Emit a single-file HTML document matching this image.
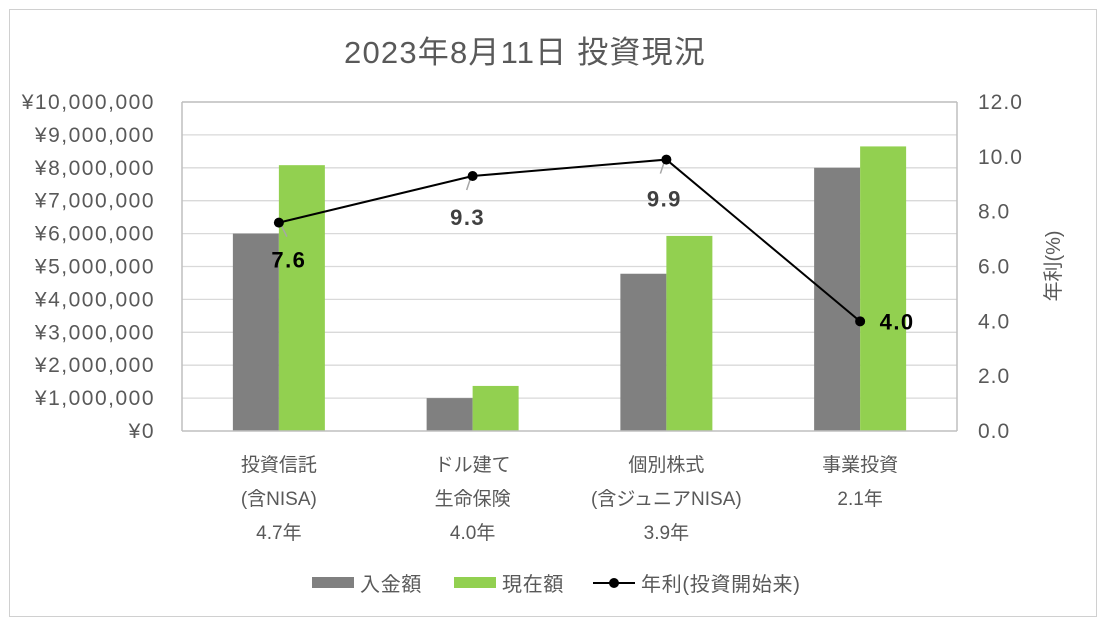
<!DOCTYPE html>
<html><head><meta charset="utf-8"><style>
body{margin:0;background:#fff;}
svg text{font-family:"Liberation Sans","Noto Sans CJK JP",sans-serif;}
</style></head><body>
<svg width="1106" height="627" xmlns="http://www.w3.org/2000/svg" id="chart">
<rect x="9.5" y="9.5" width="1087" height="607" fill="#fff" stroke="#d0d0d0"/>
<text x="525" y="63" text-anchor="middle" font-size="31" letter-spacing="1.2" fill="#595959">2023年8月11日 投資現況</text>
<g id="grid"></g><g id="bars"></g><g id="line"></g><g id="axes"></g>
<text transform="translate(1060,266) rotate(-90)" text-anchor="middle" font-size="20" fill="#595959">年利(%)</text>
<g>
<rect x="312" y="577" width="42" height="11" fill="#808080"/>
<text x="360" y="591" font-size="20" letter-spacing="0.7" fill="#595959">入金額</text>
<rect x="454" y="577" width="42" height="11" fill="#92d050"/>
<text x="502" y="591" font-size="20" letter-spacing="0.7" fill="#595959">現在額</text>
<line x1="593" y1="583" x2="635" y2="583" stroke="#000" stroke-width="2"/>
<circle cx="614" cy="583" r="5" fill="#000"/>
<text x="641" y="591" font-size="20" letter-spacing="0.7" fill="#595959">年利(投資開始来)</text>
</g>
</svg>
<script>
const categories=[["投資信託","(含NISA)","4.7年"],["ドル建て","生命保険","4.0年"],["個別株式","(含ジュニアNISA)","3.9年"],["事業投資","2.1年"]];
const deposit=[6000000,1000000,4780000,8000000];
const current=[8080000,1370000,5930000,8650000];
const rate=[7.6,9.3,9.9,4.0];
const leftTicks=["¥0","¥1,000,000","¥2,000,000","¥3,000,000","¥4,000,000","¥5,000,000","¥6,000,000","¥7,000,000","¥8,000,000","¥9,000,000","¥10,000,000"];
const rightTicks=["0.0","2.0","4.0","6.0","8.0","10.0","12.0"];
const NS="http://www.w3.org/2000/svg";
const X0=182,X1=957,Y0=431,Y1=102;
const yL=v=>Y0-(v/10000000)*(Y0-Y1);
const yR=v=>Y0-(v/12)*(Y0-Y1);
const band=(X1-X0)/categories.length;
const cx=i=>X0+band*(i+0.5);
function mk(p,tag,a){const e=document.createElementNS(NS,tag);for(const k in a)e.setAttribute(k,a[k]);document.getElementById(p).appendChild(e);return e;}
leftTicks.forEach((t,i)=>{const y=yL(i*1000000);
 if(i>0){const g=mk('grid','line',{x1:X0,x2:X1,y1:y,y2:y,stroke:'#d9d9d9','stroke-width':1.3});
 
 }
 const tx=mk('axes','text',{x:155,y:y+7,'text-anchor':'end','font-size':21,'letter-spacing':1.5,fill:'#595959'});tx.textContent=t;
 
 
});
rightTicks.forEach((t,i)=>{const tx=mk('axes','text',{x:978,y:yR(i*2)+7,'text-anchor':'start','font-size':21,'letter-spacing':1,fill:'#595959'});tx.textContent=t;
 
 });
const ax=mk('axes','line',{x1:X0,x2:X0,y1:Y1,y2:Y0,stroke:'#bfbfbf','stroke-width':1.5});


const ax2=mk('axes','line',{x1:X1,x2:X1,y1:Y1,y2:Y0,stroke:'#bfbfbf','stroke-width':1.5});


const ax4=mk('axes','line',{x1:X0,x2:X1,y1:Y1,y2:Y1,stroke:'#bfbfbf','stroke-width':1.5});


const ax3=mk('axes','line',{x1:X0,x2:X1,y1:Y0,y2:Y0,stroke:'#bfbfbf','stroke-width':1.5});


const bw=46;
categories.forEach((c,i)=>{
 const b1=mk('bars','rect',{x:cx(i)-bw,y:yL(deposit[i]),width:bw,height:Y0-yL(deposit[i]),fill:'#808080'});
 
 
 const b2=mk('bars','rect',{x:cx(i),y:yL(current[i]),width:bw,height:Y0-yL(current[i]),fill:'#92d050'});
 
 
 c.forEach((l,j)=>{const t=mk('axes','text',{x:cx(i),y:471+j*34,'text-anchor':'middle','font-size':19,fill:'#595959'});t.textContent=l;
  
  });
});
const pl=mk('line','polyline',{points:rate.map((r,i)=>cx(i)+','+yR(r)).join(' '),fill:'none',stroke:'#000','stroke-width':2});


const lo=[[10,37,'#000'],[-5,41,'#404040'],[-2,39,'#404040'],[37,0,'#000']];
rate.forEach((r,i)=>{const x=cx(i),y=yR(r);
 if(i<3){const ld=mk('line','line',{x1:x+(i==0?2:-2),y1:y+2,x2:x+(i==0?8:-6),y2:y+14,stroke:'#a6a6a6','stroke-width':1.5});
 
 }
 const c=mk('line','circle',{cx:x,cy:y,r:5,fill:'#000'});
 
 
 const t=mk('line','text',{x:x+lo[i][0],y:y+lo[i][1]+8,'text-anchor':'middle','font-size':22,'letter-spacing':1.5,'font-weight':'bold',fill:lo[i][2]});
 t.textContent=r.toFixed(1);
 
 
});
</script>
</body></html>
